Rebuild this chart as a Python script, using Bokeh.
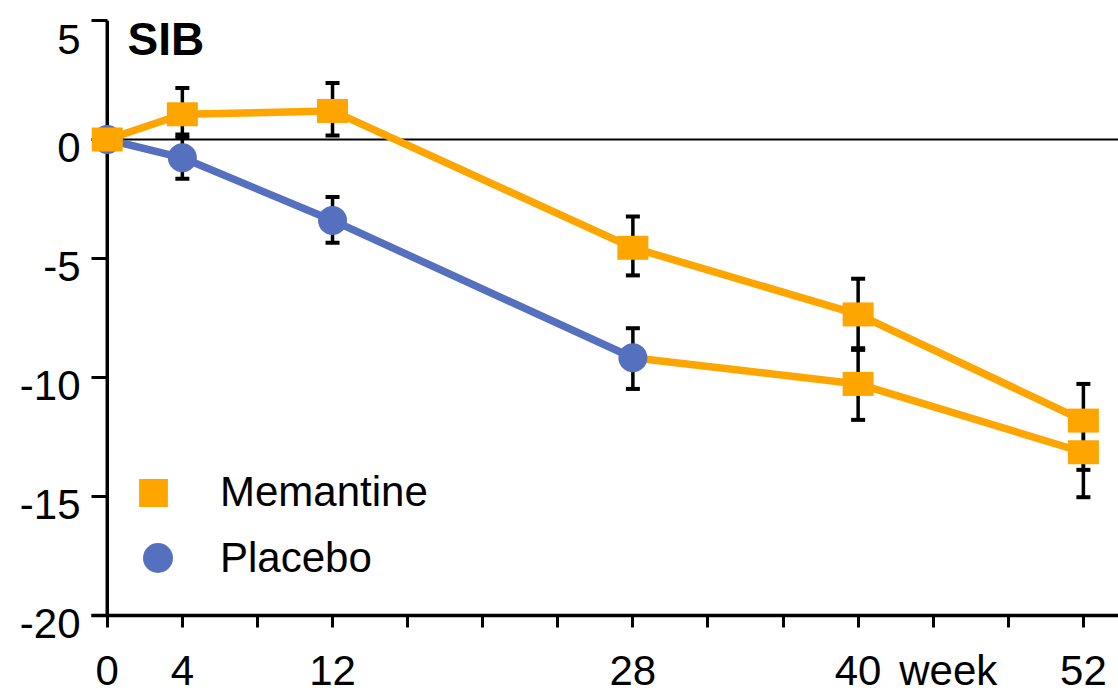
from bokeh.plotting import figure
from bokeh.models import Range1d, FixedTicker, Span, Label, Legend, LegendItem, ColumnDataSource
from bokeh.embed import file_html
from bokeh.resources import INLINE

# ---------------- data ----------------
weeks = [0, 4, 12, 28, 40, 52]
memantine = [0.0, 1.06, 1.20, -4.55, -7.35, -11.81]
memantine_err_low = [0.0, 1.00, 1.03, 1.16, 1.49, 2.07]
memantine_err_high = [0.0, 1.10, 1.17, 1.31, 1.50, 1.54]
placebo = [0.0, -0.77, -3.40, -9.17, -10.27, -13.14]
placebo_err_low = [0.0, 0.88, 0.94, 1.31, 1.51, 1.89]
placebo_err_high = [0.0, 0.98, 0.98, 1.24, 1.50, 1.45]

x_tick_marks = [0, 4, 8, 12, 16, 20, 24, 28, 32, 36, 40, 44, 48, 52]
x_label_positions = [0, 4, 12, 28, 40, 44.8, 52]
x_tick_labels = ["0", "4", "12", "28", "40", "week", "52"]
y_ticks = [-20, -15, -10, -5, 0, 5]
y_tick_labels = ["-20", "-15", "-10", "-5", "0", "5"]
series_names = ["Memantine", "Placebo"]
title_text = "SIB"
placebo_blue_points = 4   # first points of placebo drawn in blue, the rest in orange

ORANGE = "#FFA500"
BLUE = "#5670C0"
FONT = "Liberation Sans"

# ---------------- figure ----------------
p = figure(width=1118, height=697, output_backend="svg", toolbar_location=None,
           x_range=Range1d(-0.84, 53.87), y_range=Range1d(-20, 5),
           min_border_left=91, min_border_right=0, min_border_top=20, min_border_bottom=82)
p.outline_line_color = None
p.grid.visible = False
p.background_fill_color = "white"
p.border_fill_color = "white"

xa = p.xaxis[0]
xa.ticker = FixedTicker(ticks=x_label_positions, minor_ticks=x_tick_marks)
xa.major_label_overrides = {t: l for t, l in zip(x_label_positions, x_tick_labels)}
xa.axis_line_width = 3.5
xa.major_tick_out = 0
xa.major_tick_in = 0
xa.major_tick_line_color = None
xa.minor_tick_line_width = 3
xa.minor_tick_out = 12
xa.minor_tick_in = 0
xa.major_label_standoff = 19
xa.major_label_text_font = FONT
xa.major_label_text_font_size = "42px"
xa.major_label_text_color = "black"

ya = p.yaxis[0]
ya.ticker = FixedTicker(ticks=y_ticks, minor_ticks=[])
# leading empty line with a tight line height nudges the labels slightly below their ticks, as in the original
ya.major_label_overrides = {t: "\n" + l for t, l in zip(y_ticks, y_tick_labels)}
ya.major_label_text_line_height = 0.33
ya.axis_line_color = None
ya.major_tick_line_width = 3
ya.major_tick_out = 0
ya.major_tick_in = 16
ya.minor_tick_out = 0
ya.minor_tick_in = 0
ya.major_label_standoff = 11
ya.major_label_text_font = FONT
ya.major_label_text_font_size = "42px"
ya.major_label_text_color = "black"

# y axis line drawn at week 0
p.add_layout(Span(location=0, dimension="height", line_color="black", line_width=3.5, level="underlay"))
# zero reference line
p.add_layout(Span(location=0, dimension="width", line_color="black", line_width=2, level="underlay"))

# ---------------- lines ----------------
p.line(weeks, memantine, line_color=ORANGE, line_width=7.5)
n = placebo_blue_points
p.line(weeks[:n], placebo[:n], line_color=BLUE, line_width=7.5)
p.line(weeks[n - 1:], placebo[n - 1:], line_color=ORANGE, line_width=7.5)

# ---------------- error bars ----------------
ex, elo, ehi = [], [], []
for w, v, lo, hi in zip(weeks + weeks, memantine + placebo,
                        memantine_err_low + placebo_err_low,
                        memantine_err_high + placebo_err_high):
    if lo > 0 or hi > 0:
        ex.append(w)
        elo.append(v - lo)
        ehi.append(v + hi)
err = ColumnDataSource(dict(x=ex, lo=elo, hi=ehi))
p.segment(x0="x", y0="lo", x1="x", y1="hi", source=err, line_color="black", line_width=3.5)
p.scatter(x="x", y="lo", source=err, marker="dash", size=14, line_color="black", line_width=4)
p.scatter(x="x", y="hi", source=err, marker="dash", size=14, line_color="black", line_width=4)

# ---------------- markers ----------------
plac_r = p.scatter(weeks[:n], placebo[:n], marker="circle", size=29,
                   fill_color=BLUE, line_color=None, level="overlay")
p.rect(weeks[n:], placebo[n:], width=31, height=24, width_units="screen", height_units="screen",
       fill_color=ORANGE, line_color=None, level="overlay")
mem_r = p.rect(weeks, memantine, width=31, height=24, width_units="screen", height_units="screen",
               fill_color=ORANGE, line_color=None, level="overlay")

# ---------------- legends ----------------
def make_legend(item, gw, gh, standoff, loc):
    lg = Legend(items=[item], location=loc, glyph_width=gw, glyph_height=gh,
                label_standoff=standoff, label_text_font=FONT, label_text_font_size="42px",
                label_text_color="black", border_line_color=None, background_fill_alpha=0,
                padding=0, margin=0, spacing=0)
    p.add_layout(lg)
    return lg

make_legend(LegendItem(label=series_names[0], renderers=[mem_r]), 36, 35, 49, (44, 99))
make_legend(LegendItem(label=series_names[1], renderers=[plac_r]), 75, 75, 25, (29, 20))

# ---------------- title text ----------------
p.add_layout(Label(x=1.08, y=4.24, text=title_text, text_font=FONT, text_font_style="bold",
                   text_font_size="46px", text_color="black", text_baseline="alphabetic"))

open("out.html", "w").write(file_html(p, INLINE))
